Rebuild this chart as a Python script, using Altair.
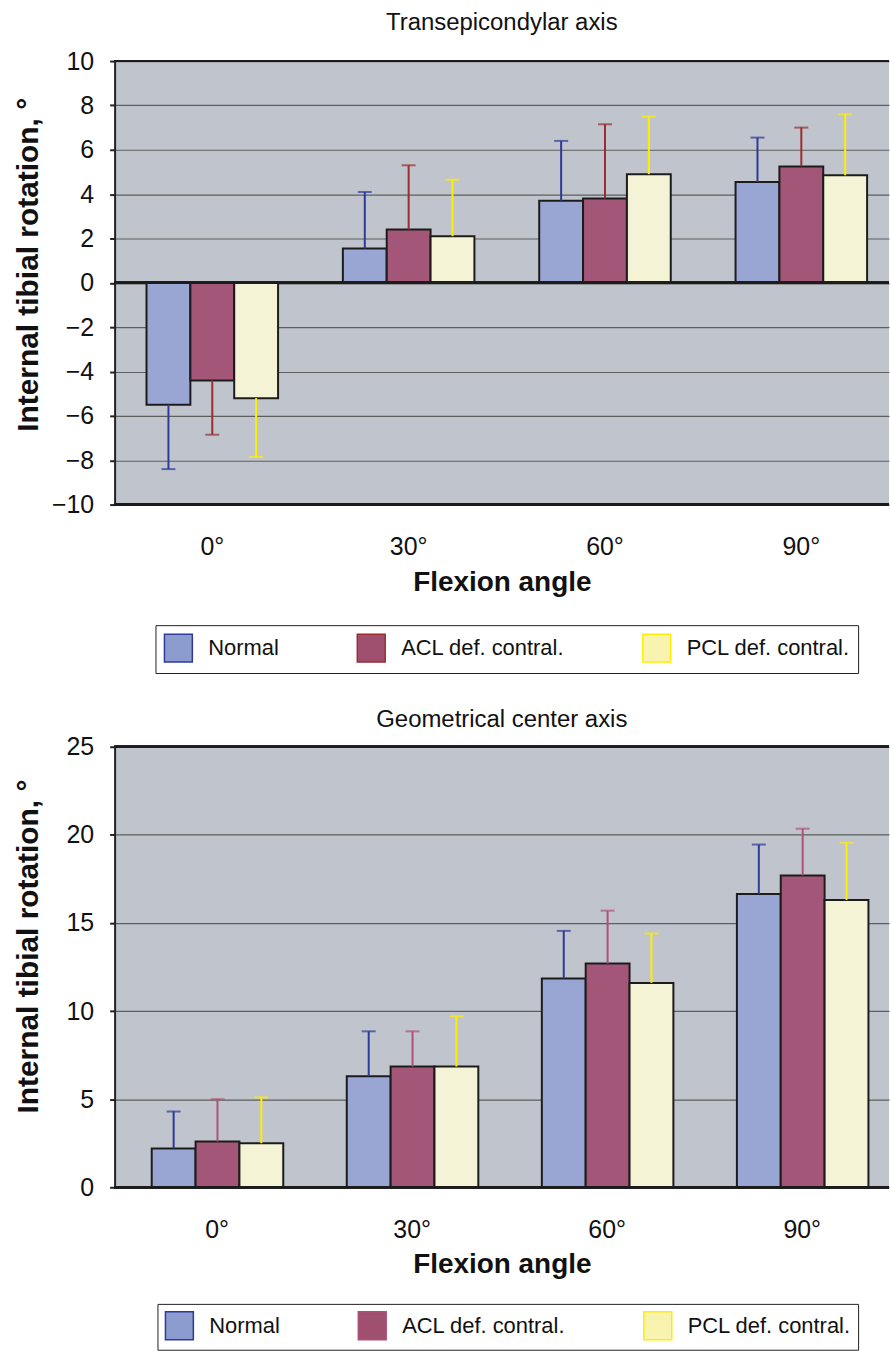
import altair as alt
import pandas as pd

angles = ["0°", "30°", "60°", "90°"]
groups = ["Normal", "ACL def. contral.", "PCL def. contral."]

# Transepicondylar axis (mean, SD)
trans_normal = [-5.5, 1.55, 3.7, 4.55]
trans_normal_sd = [2.9, 2.55, 2.7, 2.0]
trans_acl = [-4.4, 2.4, 3.8, 5.25]
trans_acl_sd = [2.45, 2.9, 3.35, 1.75]
trans_pcl = [-5.2, 2.1, 4.9, 4.85]
trans_pcl_sd = [2.65, 2.55, 2.6, 2.75]

# Geometrical center axis (mean, SD)
geo_normal = [2.2, 6.3, 11.85, 16.65]
geo_normal_sd = [2.1, 2.55, 2.7, 2.8]
geo_acl = [2.6, 6.85, 12.7, 17.7]
geo_acl_sd = [2.4, 2.0, 3.0, 2.65]
geo_pcl = [2.5, 6.85, 11.6, 16.3]
geo_pcl_sd = [2.6, 2.85, 2.8, 3.25]

bar_colors = ["#99A6D3", "#A35677", "#F4F3D5"]
legend_colors = ["#8C9CCF", "#A0506F", "#F8F4B0"]
err_colors_top = ["#2E3A9A", "#9B2D30", "#FFEE00"]
err_colors_bottom = ["#2E3A9A", "#B0507A", "#FFEE00"]

FONT = "Liberation Sans"


def build_df(series, sds):
    rows = []
    for g, vals, sd in zip(groups, series, sds):
        for a, v, s in zip(angles, vals, sd):
            end = v + s if v >= 0 else v - s
            rows.append({"angle": a, "group": g, "value": v, "end": end})
    return pd.DataFrame(rows)


def make_chart(df, title, ydom, yvals, err_colors, width, pad_outer, band_align, height,
               legend_x, legend_y, legend_pad, title_x, title_y, title_offset,
               label_pad, border_values):
    x = alt.X("angle:N", sort=angles,
              scale=alt.Scale(paddingInner=0.33, paddingOuter=pad_outer, align=band_align),
              axis=alt.Axis(title="Flexion angle", labelAngle=0, labelFontSize=25,
                            labelFont=FONT, labelColor="#111", labelPadding=label_pad,
                            domain=False, ticks=False, titleFontSize=28,
                            titleFont=FONT, titleFontWeight="bold", titleColor="#111",
                            titlePadding=9))
    xo = alt.XOffset("group:N", sort=groups, scale=alt.Scale(paddingInner=0, paddingOuter=0))
    y_axis = alt.Axis(values=yvals, title="Internal tibial rotation, °", tickSize=5,
                      labelFontSize=25, labelFont=FONT, labelColor="#111", labelPadding=16,
                      titleFontSize=30, titleFont=FONT, titleFontWeight="bold",
                      titleColor="#111", titleX=title_x, titleY=title_y,
                      titleAngle=270, titleAlign="center", titleBaseline="middle",
                      grid=True, gridColor="#5e5e5e",
                      gridWidth=1.2, domainColor="#222", domainWidth=2,
                      tickColor="#222", tickWidth=2)
    y = alt.Y("value:Q", scale=alt.Scale(domain=ydom, nice=False, zero=False), axis=y_axis)

    base = alt.Chart(df)

    bars = base.mark_bar(stroke="#1c1c1c", strokeWidth=2).encode(
        x=x, xOffset=xo, y=y,
        fill=alt.Fill("group:N", sort=groups,
                      scale=alt.Scale(domain=groups, range=bar_colors), legend=None),
    )

    legend_layer = base.mark_square(size=1, opacity=0).encode(
        x=x, xOffset=xo, y=alt.Y("value:Q"),
        color=alt.Color("group:N", sort=groups,
                        scale=alt.Scale(domain=groups, range=legend_colors),
                        legend=alt.Legend(orient="none", legendX=legend_x, legendY=legend_y,
                                          direction="horizontal", title=None,
                                          symbolType="square",
                                          symbolSize=784, symbolStrokeColor="#111",
                                          symbolStrokeWidth=1.5, symbolOpacity=1,
                                          labelFontSize=22, labelFont=FONT, labelColor="#111",
                                          labelOffset=15, columnPadding=75.5, labelLimit=0,
                                          strokeColor="#222", fillColor="white",
                                          padding=legend_pad))
    )

    err = base.mark_rule(strokeWidth=2).encode(
        x=x, xOffset=xo, y=alt.Y("value:Q"), y2="end:Q",
        stroke=alt.Stroke("group:N", sort=groups,
                          scale=alt.Scale(domain=groups, range=err_colors), legend=None),
    )
    caps = base.mark_tick(thickness=2, size=14).encode(
        x=x, xOffset=xo, y=alt.Y("end:Q"),
        fill=alt.Fill("group:N", sort=groups,
                      scale=alt.Scale(domain=groups, range=err_colors), legend=None),
    )

    layers = [bars, legend_layer]
    for v in border_values:
        layers.append(alt.Chart(df).mark_rule(color="#1c1c1c", strokeWidth=2).encode(
            y=alt.datum(v)))
    layers += [err, caps]

    return alt.layer(*layers).resolve_scale(fill="independent").properties(
        width=width, height=height,
        title=alt.Title(title, fontSize=24, font=FONT, fontWeight="normal", color="#111",
                        anchor="middle", frame="group", offset=title_offset),
    )


df_top = build_df([trans_normal, trans_acl, trans_pcl],
                  [trans_normal_sd, trans_acl_sd, trans_pcl_sd])
df_bot = build_df([geo_normal, geo_acl, geo_pcl],
                  [geo_normal_sd, geo_acl_sd, geo_pcl_sd])

top = make_chart(df_top, "Transepicondylar axis", [-10, 10], list(range(-10, 11, 2)),
                 err_colors_top, 777, 0.137, 0.593, 445, 41, 566, 8, -86, 204, 14, 30,
                 [10, 0, -10])
bottom = make_chart(df_bot, "Geometrical center axis", [0, 25], list(range(0, 26, 5)),
                    err_colors_bottom, 777, 0.150, 0.634, 442, 43, 559, 7, -86, 200, 3, 30,
                    [25, 0])

chart = alt.vconcat(top, bottom, spacing=34).resolve_scale(
    color="independent", fill="independent", stroke="independent", x="independent"
).configure_view(
    strokeWidth=0, fill="#C0C4CC"
).properties(padding={"left": 13, "top": 9, "right": 0, "bottom": 0})

chart.save("out.html", embed_options={"renderer": "svg", "actions": False})
